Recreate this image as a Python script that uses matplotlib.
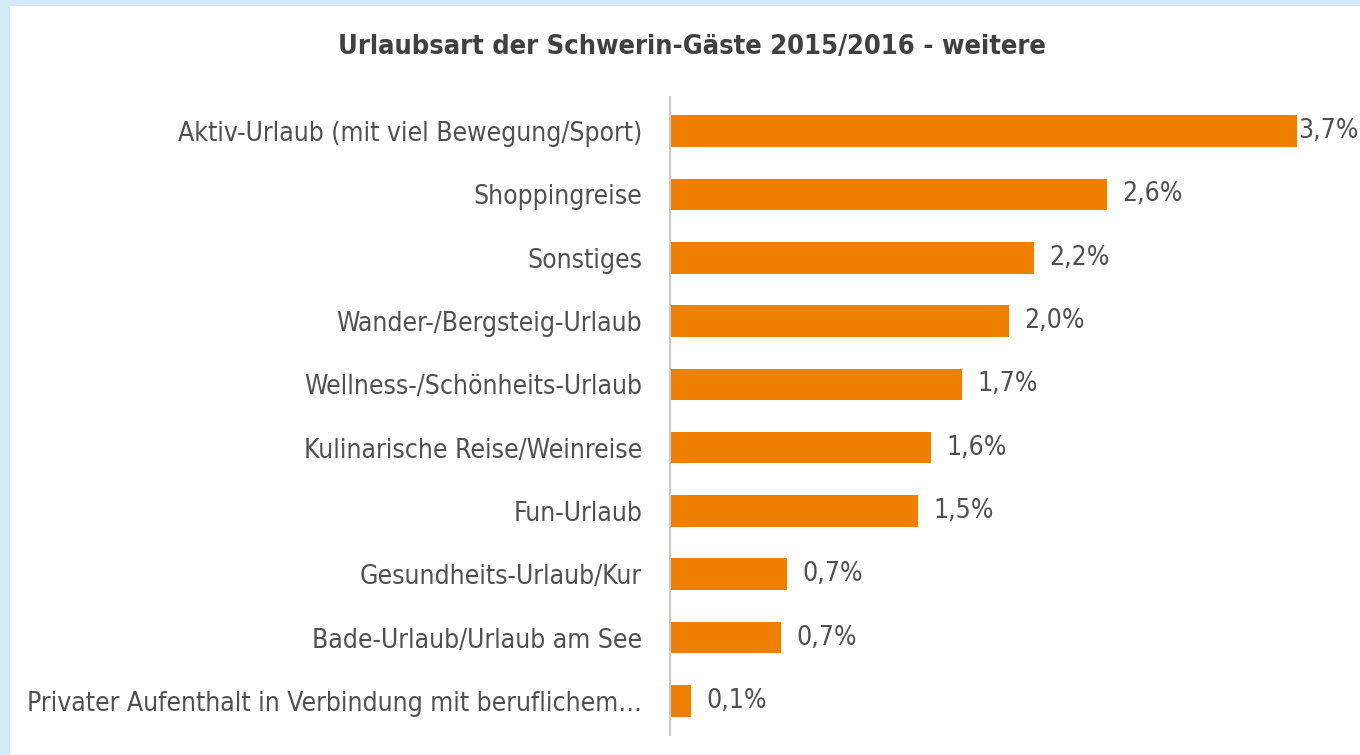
import matplotlib.pyplot as plt
import matplotlib.patches as mpatches

categories = ['Aktiv-Urlaub (mit viel Bewegung/Sport)', 'Shoppingreise', 'Sonstiges',
              'Wander-/Bergsteig-Urlaub', 'Wellness-/Schönheits-Urlaub',
              'Kulinarische Reise/Weinreise', 'Fun-Urlaub', 'Gesundheits-Urlaub/Kur',
              'Bade-Urlaub/Urlaub am See',
              'Privater Aufenthalt in Verbindung mit beruflichem…']
# bar lengths (labels are rounded)
values = [3.74, 2.61, 2.17, 2.02, 1.74, 1.56, 1.48, 0.70, 0.66, 0.125]
value_labels = ['3,7%', '2,6%', '2,2%', '2,0%', '1,7%', '1,6%', '1,5%', '0,7%', '0,7%', '0,1%']

plt.rcParams['font.family'] = ['DejaVu Sans']
plt.rcParams['font.stretch'] = 'condensed'
txt = '#505050'

fig = plt.figure(figsize=(13.6, 7.55), dpi=100)
fig.patch.set_facecolor('#d3e9f8')
# white panel inside the blue frame
fig.patches.append(mpatches.Rectangle((10 / 1360, 0), 1, 1 - 6 / 755,
                                      transform=fig.transFigure,
                                      facecolor='white', edgecolor='none', zorder=-5))

ax = fig.add_axes([670 / 1360, 20 / 755, 680 / 1360, 638 / 755])
ax.set_facecolor('none')
ax.set_zorder(2)
pos = list(range(len(categories)))
ax.barh(pos, values, height=0.5, color='#ef7f00')
ax.set_ylim(len(categories) - 0.46, -0.54)
ax.set_xlim(0, 4.057)
ax.set_yticks(pos)
ax.set_yticklabels(categories, fontsize=19, color=txt)
ax.tick_params(axis='y', length=0, pad=20)
ax.set_xticks([])
for s in ['top', 'right', 'bottom']:
    ax.spines[s].set_visible(False)
ax.spines['left'].set_color('#c8c8c8')
ax.spines['left'].set_linewidth(1.5)

for i, (v, lab) in enumerate(zip(values, value_labels)):
    off = 1 if v == max(values) else 11
    ax.annotate(lab, (v, i), xytext=(off, 0), textcoords='offset points',
                va='center', ha='left', fontsize=19, color=txt, clip_on=False)

fig.text(692 / 1360, 1 - 47 / 755, 'Urlaubsart der Schwerin-Gäste 2015/2016 - weitere',
         ha='center', va='center', fontsize=19.5, fontweight='bold', color='#404040')

fig.savefig('out.png', dpi=100)
